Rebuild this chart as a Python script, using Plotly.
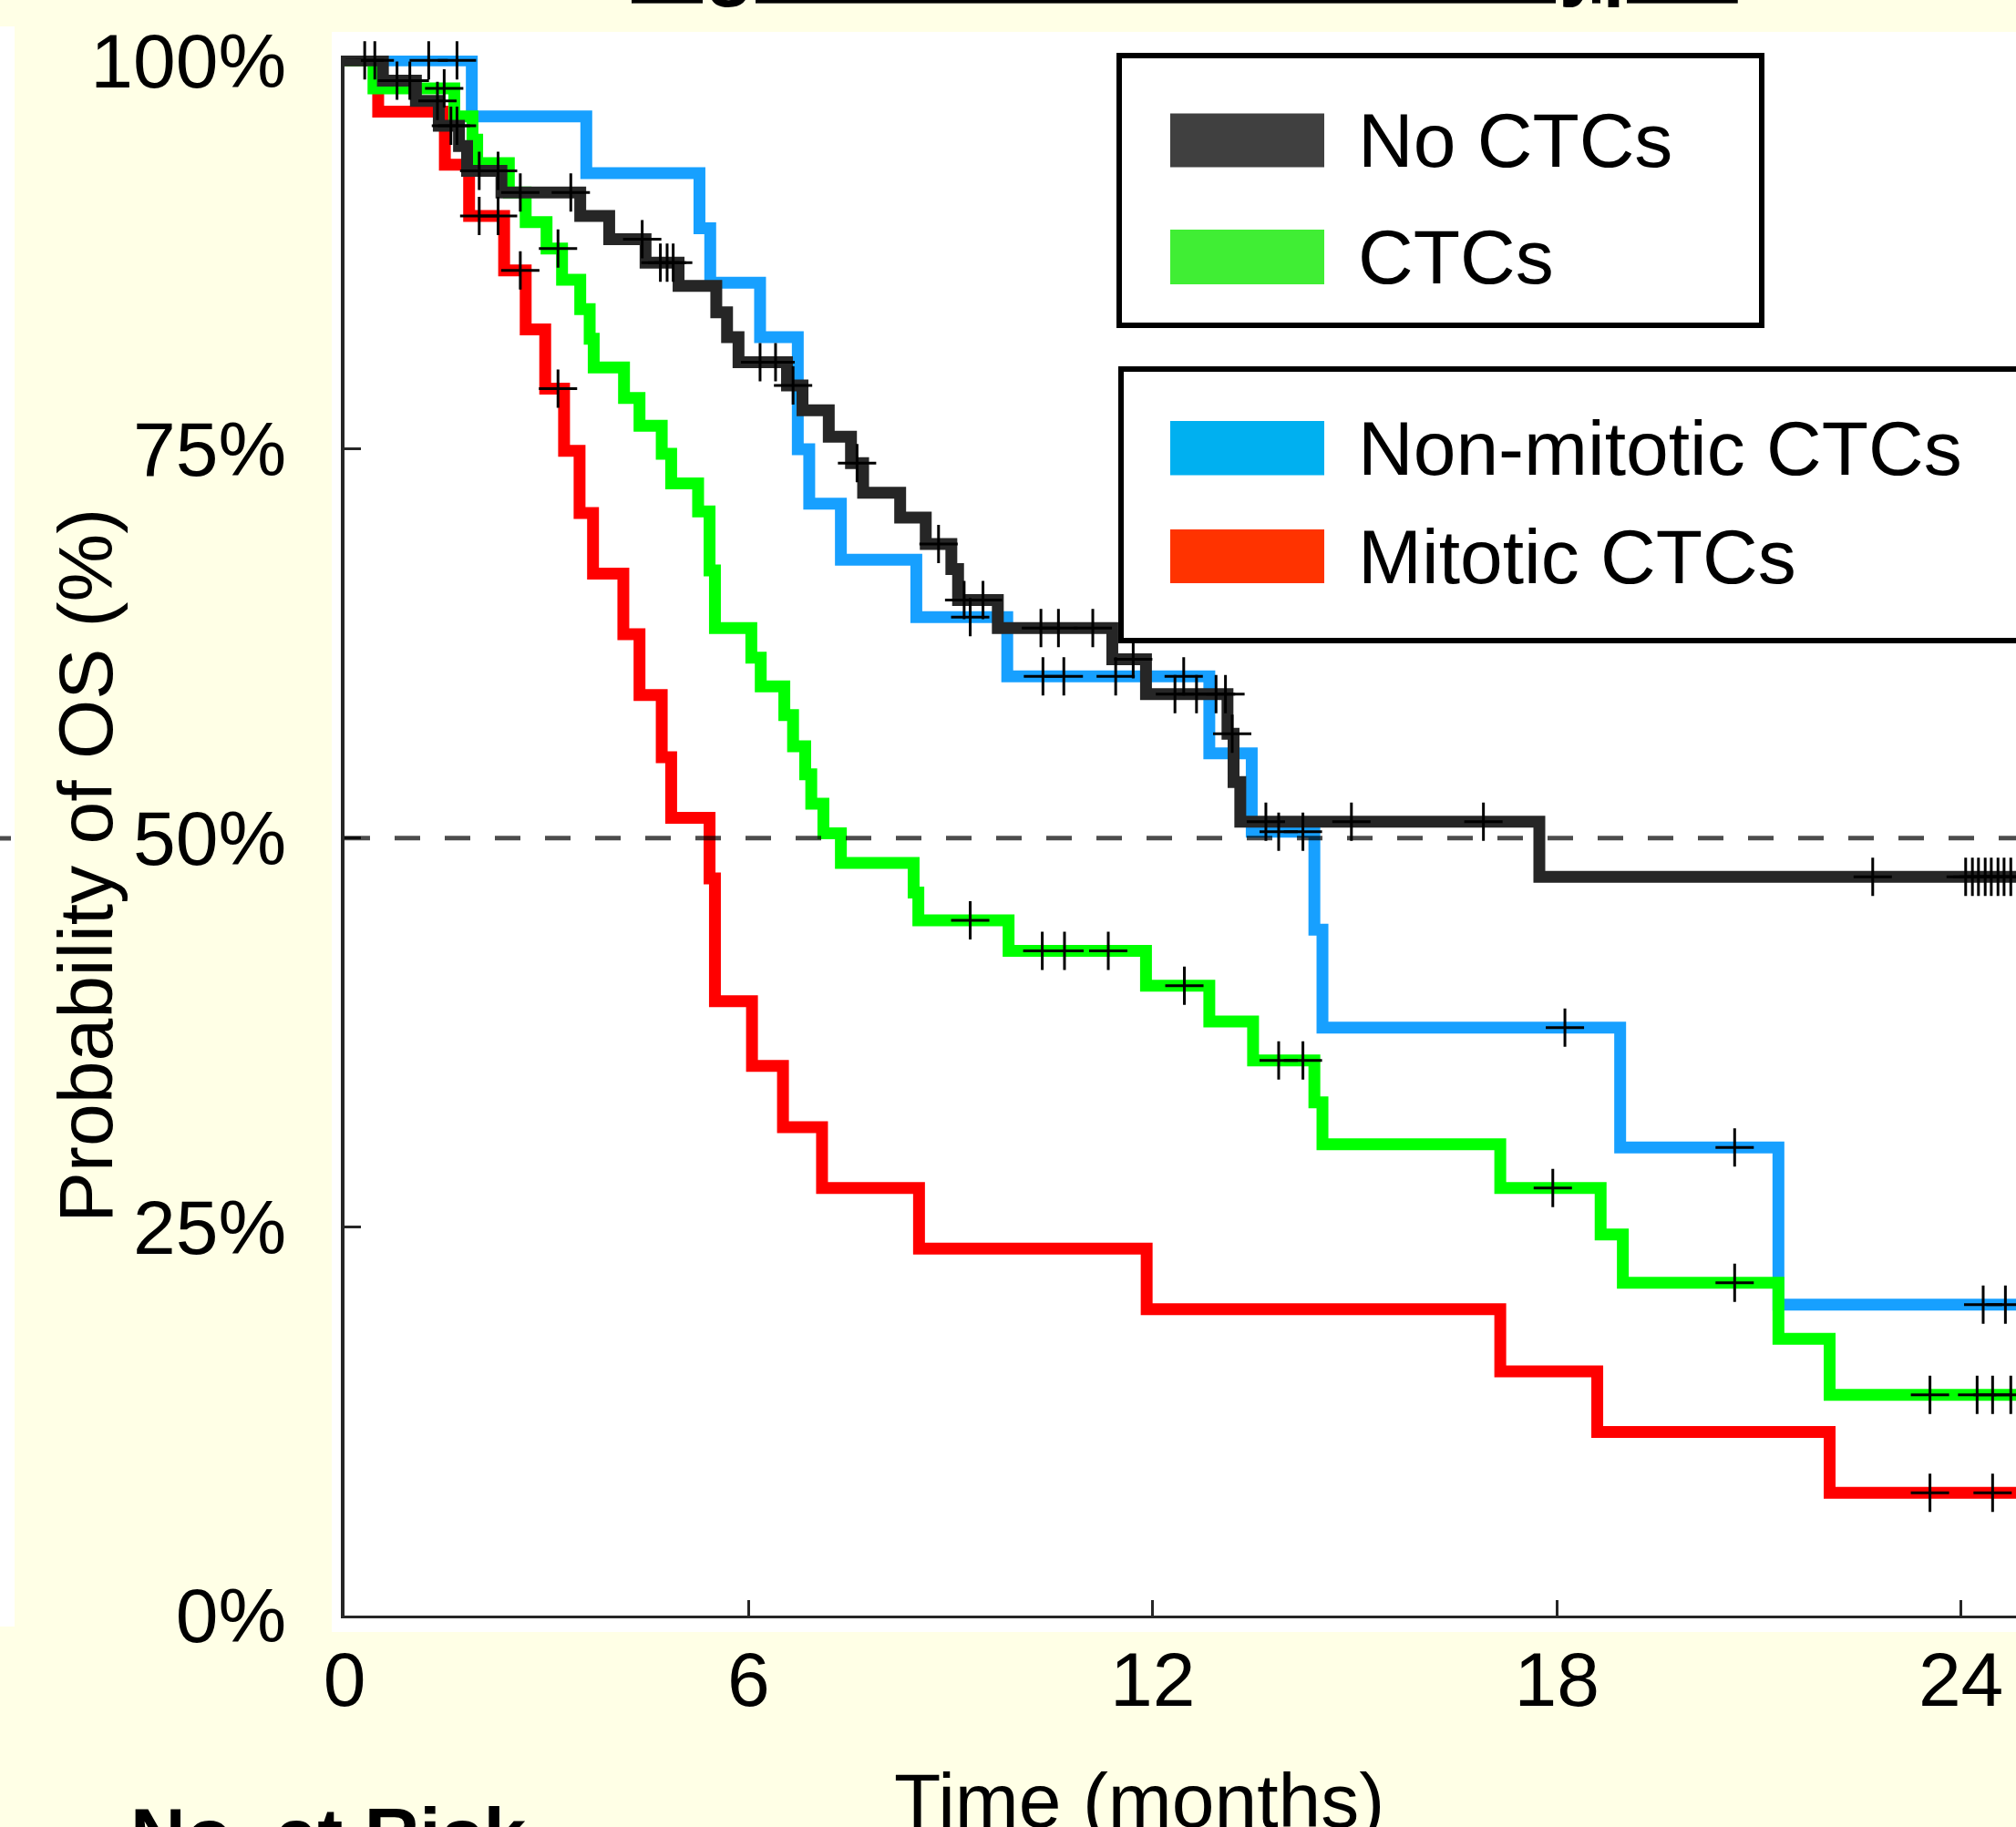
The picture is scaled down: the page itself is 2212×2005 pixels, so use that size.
import numpy as np
import plotly.graph_objects as go

W, H = 2212, 2005

# ---------------- data ----------------
groups = ["No CTCs", "CTCs", "Non-mitotic CTCs", "Mitotic CTCs"]

# Kaplan-Meier step functions: time of each step (months) and survival after it (%)
no_ctc_time = [0, 0.57, 1.06, 1.40, 1.70, 1.82, 2.33, 3.50, 3.93, 4.47, 4.96, 5.52, 5.68,
               5.85, 6.57, 6.80, 7.19, 7.52, 7.70, 8.25, 8.63, 9.01, 9.11, 9.70, 11.40,
               11.90, 13.11, 13.20, 13.30, 17.74]
no_ctc_surv = [100, 98.7, 97.4, 95.8, 94.5, 92.9, 91.5, 90.0, 88.5, 87.0, 85.5, 83.8, 82.2,
               80.6, 79.1, 77.5, 75.8, 74.1, 72.2, 70.6, 68.9, 67.3, 65.3, 63.5, 61.5,
               59.25, 56.7, 53.6, 51.05, 47.5]
no_ctc_censor = [0.30, 0.45, 0.78, 0.97, 1.38, 1.58, 1.67, 2.00, 2.28, 2.61, 3.36, 4.42,
                 4.69, 4.79, 4.88, 6.17, 6.40, 6.66, 7.61, 8.82, 9.20, 9.48, 10.34, 10.60,
                 11.11, 11.71, 12.33, 12.65, 12.94, 13.08, 13.18, 13.68, 14.95, 16.91,
                 22.69, 24.07, 24.17, 24.26, 24.36, 24.45, 24.55, 24.64, 24.74]

ctc_time = [0, 0.43, 1.63, 1.90, 1.97, 2.44, 2.69, 3.00, 3.23, 3.50, 3.64, 3.70, 4.15,
            4.38, 4.71, 4.85, 5.25, 5.42, 5.50, 6.04, 6.18, 6.53, 6.66, 6.84, 6.93, 7.11,
            7.37, 8.45, 8.52, 9.86, 11.90, 12.84, 13.49, 14.40, 14.52, 17.16, 18.65,
            18.98, 21.29, 22.05]
ctc_surv = [100, 98.2, 96.4, 94.9, 93.4, 91.5, 89.6, 87.9, 85.9, 84.0, 82.1, 80.25, 78.3,
            76.5, 74.7, 72.8, 71.0, 67.2, 63.5, 61.6, 59.75, 57.9, 55.9, 54.1, 52.2, 50.3,
            48.4, 46.5, 44.7, 42.75, 40.5, 38.2, 35.7, 33.0, 30.3, 27.5, 24.5,
            21.4, 17.8, 14.2]
ctc_censor = [1.48, 3.17, 9.29, 10.36, 10.69, 11.34, 12.47, 13.87, 14.23, 17.94, 20.64,
              23.54, 24.24, 24.47, 24.74]

nonmit_time = [0, 1.89, 3.59, 5.27, 5.43, 6.17, 6.73, 6.90, 7.37, 8.49, 9.84, 12.84,
               13.47, 14.40, 14.52, 18.94, 21.29]
nonmit_surv = [100, 96.4, 92.75, 89.2, 85.7, 82.2, 75.0, 71.5, 67.9, 64.2, 60.4, 55.45,
               50.4, 44.1, 37.8, 30.1, 20.0]
nonmit_censor = [1.25, 1.67, 9.29, 10.37, 10.68, 11.45, 12.46, 13.87, 14.23, 18.12,
                 20.64, 24.33, 24.66]

mit_time = [0, 0.50, 1.49, 1.85, 2.37, 2.69, 2.98, 3.26, 3.49, 3.69, 4.14, 4.38, 4.71,
            4.85, 5.42, 5.50, 6.05, 6.51, 7.09, 8.53, 11.91, 17.16, 18.60, 22.05]
mit_surv = [100, 96.7, 93.3, 90.0, 86.5, 82.7, 78.9, 74.9, 70.9, 67.0, 63.1, 59.2, 55.2,
            51.3, 47.4, 39.5, 35.35, 31.4, 27.5, 23.6, 19.7, 15.7, 11.8, 7.9]
mit_censor = [2.00, 2.28, 2.61, 3.17, 23.54, 24.47]

follow_up_end = 25.2          # curves continue past the visible window
median_level = 50

x_tick_vals = [0, 6, 12, 18, 24]
x_tick_text = ["0", "6", "12", "18", "24"]
y_tick_vals = [0, 25, 50, 75, 100]
y_tick_text = ["0%", "25%", "50%", "75%", "100%"]

title_text = "Significance of CTC subtypes"
x_title = "Time (months)"
y_title = "Probability of OS (%)"
risk_title = "No. at Risk"

# ---------------- styles ----------------
line_colors = {"No CTCs": "#262626", "CTCs": "#00FF00",
               "Non-mitotic CTCs": "#17A0FF", "Mitotic CTCs": "#FF0000"}
swatch_colors = {"No CTCs": "#404040", "CTCs": "#40EE34",
                 "Non-mitotic CTCs": "#00B0F0", "Mitotic CTCs": "#FF3300"}
FONT = "Liberation Sans, Arial, Helvetica, sans-serif"
CREAM = "#FFFFE6"

series = {
    "No CTCs": (no_ctc_time, no_ctc_surv, no_ctc_censor),
    "CTCs": (ctc_time, ctc_surv, ctc_censor),
    "Non-mitotic CTCs": (nonmit_time, nonmit_surv, nonmit_censor),
    "Mitotic CTCs": (mit_time, mit_surv, mit_censor),
}


def surv_at(times, surv, t):
    idx = np.searchsorted(np.asarray(times), np.asarray(t), side="right") - 1
    return np.asarray(surv)[idx]


def px(x):
    return x / W


def py(y):
    return 1 - y / H


fig = go.Figure()

draw_order = ["Non-mitotic CTCs", "Mitotic CTCs", "CTCs", "No CTCs"]
for g in draw_order:
    t, s, c = series[g]
    fig.add_trace(go.Scatter(
        x=list(t) + [follow_up_end], y=list(s) + [s[-1]],
        mode="lines", line=dict(shape="hv", color=line_colors[g], width=13),
        name=g, showlegend=False, hoverinfo="skip"))

for g in draw_order:
    t, s, c = series[g]
    fig.add_trace(go.Scatter(
        x=c, y=surv_at(t, s, c), mode="markers", name=g + " (censored)",
        marker=dict(symbol="cross-thin", size=30, color="black",
                    line=dict(width=3, color="black")),
        showlegend=False, cliponaxis=False, hoverinfo="skip"))

# median reference line
fig.add_hline(y=median_level, line=dict(color="rgba(0,0,0,0.7)", width=5, dash="28px,27px"),
              layer="above")

# plot area geometry (pixels)
X0, X1 = 378, W
Y_AXIS, Y_TOP = 1773, 61
px_per_month = 73.9
px_per_pct = 17.067

shapes = []
# white axes background (slightly larger than the axes box)
shapes.append(dict(type="rect", xref="paper", yref="paper", x0=px(364), x1=px(W + 5),
                   y0=py(1791), y1=py(35), fillcolor="white", line=dict(width=0),
                   layer="below"))
# strip of the neighbouring panel on the left
shapes.append(dict(type="rect", xref="paper", yref="paper", x0=px(-2), x1=px(16),
                   y0=py(1785), y1=py(29), fillcolor="white", line=dict(width=0),
                   layer="below"))
shapes.append(dict(type="line", xref="paper", yref="paper", x0=px(0), x1=px(12),
                   y0=py(920), y1=py(920), line=dict(color="rgba(0,0,0,0.7)", width=5),
                   layer="above"))

# legend boxes
legend_boxes = [(1228, 1933, 61, 357), (1230, 2240, 405, 703)]
for (bx0, bx1, by0, by1) in legend_boxes:
    shapes.append(dict(type="rect", xref="paper", yref="paper", x0=px(bx0), x1=px(bx1),
                       y0=py(by1), y1=py(by0), fillcolor="white",
                       line=dict(color="black", width=6), layer="above"))
swatch_rows = [(124.5, 183.5), (252, 312), (462, 521.5), (581, 640)]
annotations = []
for g, (sy0, sy1) in zip(groups, swatch_rows):
    shapes.append(dict(type="rect", xref="paper", yref="paper", x0=px(1284), x1=px(1453),
                       y0=py(sy1), y1=py(sy0), fillcolor=swatch_colors[g],
                       line=dict(width=0), layer="above"))
    annotations.append(dict(xref="paper", yref="paper", x=px(1489), y=py((sy0 + sy1) / 2),
                            xanchor="left", yanchor="middle", showarrow=False, text=g,
                            font=dict(family=FONT, size=84, color="black"), borderpad=0))

# titles
annotations.append(dict(xref="paper", yref="paper", x=px(94), y=py(950), text=y_title,
                        textangle=-90, showarrow=False, xanchor="center", yanchor="middle",
                        font=dict(family=FONT, size=84, color="black"), borderpad=0))
annotations.append(dict(xref="paper", yref="paper", x=px(1250), y=py(1976), text=x_title,
                        showarrow=False, xanchor="center", yanchor="middle",
                        font=dict(family=FONT, size=84, color="black"), borderpad=0))
annotations.append(dict(xref="paper", yref="paper", x=px(142), y=py(2014),
                        text="<b>" + risk_title + "</b>", showarrow=False,
                        xanchor="left", yanchor="middle",
                        font=dict(family=FONT, size=84, color="black"), borderpad=0))
annotations.append(dict(xref="paper", yref="paper", x=px(1300), y=py(-40),
                        text="<b><u>" + title_text + "</u></b>", showarrow=False,
                        xanchor="center", yanchor="middle",
                        font=dict(family=FONT, size=86, color="black"), borderpad=0))

x_range = [0, (X1 - X0) / px_per_month]
y_range = [0, (Y_AXIS - Y_TOP) / px_per_pct]

fig.update_layout(
    width=W, height=H, autosize=False,
    margin=dict(l=0, r=0, t=0, b=0, pad=0),
    paper_bgcolor=CREAM, plot_bgcolor="white",
    font=dict(family=FONT, size=84, color="black"),
    showlegend=False,
    shapes=fig.layout.shapes + tuple(shapes),
    annotations=annotations,
    xaxis=dict(domain=[px(X0), 1], range=x_range, tickmode="array", automargin=False,
               tickvals=x_tick_vals, ticktext=x_tick_text, ticks="inside", ticklen=17,
               tickwidth=2.5, tickcolor="#262626", showline=True, linecolor="#262626",
               linewidth=3, showgrid=False, zeroline=False, ticklabelstandoff=-5,
               tickfont=dict(family=FONT, size=84, color="black")),
    yaxis=dict(domain=[py(Y_AXIS), py(Y_TOP)], range=y_range, tickmode="array",
               automargin=False,
               tickvals=y_tick_vals, ticktext=y_tick_text, ticks="inside", ticklen=18,
               tickwidth=3, tickcolor="#262626", showline=True, linecolor="#262626",
               linewidth=4, showgrid=False, zeroline=False, ticklabelstandoff=43,
               tickfont=dict(family=FONT, size=84, color="black")),
)

fig.write_html("out.html", config={"displayModeBar": False},
               post_script="document.body.style.margin='0';")
